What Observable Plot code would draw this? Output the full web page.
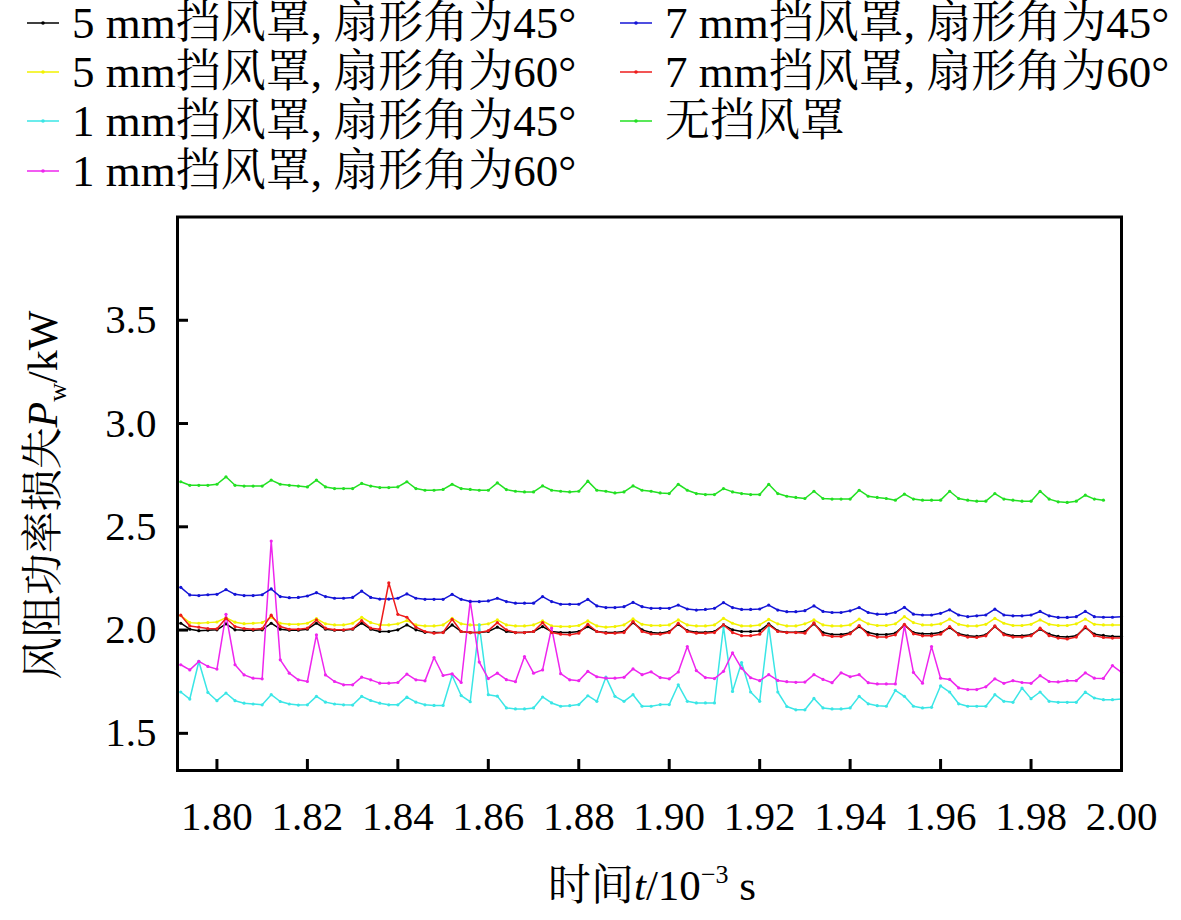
<!DOCTYPE html>
<html><head><meta charset="utf-8">
<script src="https://cdn.jsdelivr.net/npm/d3@7"></script>
<script src="https://cdn.jsdelivr.net/npm/@observablehq/plot@0.6"></script>
<style>
body{margin:0;background:#fff;overflow:hidden;width:1181px;height:920px;position:relative;font-family:"Liberation Serif","Times New Roman","Noto Serif CJK SC","Noto Sans CJK SC",serif;}
#legend{position:relative;height:200px;width:1181px;}
.item{position:absolute;height:50px;line-height:50px;font-size:45px;white-space:nowrap;color:#000}
.item svg{position:absolute;left:0;top:0}
.item span{position:absolute;left:45px;top:0}
#chart svg{display:block}
#chart svg text{font-family:"Liberation Serif","Times New Roman","Noto Serif CJK SC","Noto Sans CJK SC",serif}
</style></head><body>
<div id="legend"></div>
<div id="chart"></div>
<script>
// time (10^-3 s)
const times = [1.792,1.794,1.796,1.798,1.800,1.802,1.804,1.806,1.808,1.810,1.812,1.814,1.816,1.818,1.820,1.822,1.824,1.826,1.828,1.830,1.832,1.834,1.836,1.838,1.840,1.842,1.844,1.846,1.848,1.850,1.852,1.854,1.856,1.858,1.860,1.862,1.864,1.866,1.868,1.870,1.872,1.874,1.876,1.878,1.880,1.882,1.884,1.886,1.888,1.890,1.892,1.894,1.896,1.898,1.900,1.902,1.904,1.906,1.908,1.910,1.912,1.914,1.916,1.918,1.920,1.922,1.924,1.926,1.928,1.930,1.932,1.934,1.936,1.938,1.940,1.942,1.944,1.946,1.948,1.950,1.952,1.954,1.956,1.958,1.960,1.962,1.964,1.966,1.968,1.970,1.972,1.974,1.976,1.978,1.980,1.982,1.984,1.986,1.988,1.990,1.992,1.994,1.996,1.998,2.000];

const names = ["5 mm挡风罩, 扇形角为45°","5 mm挡风罩, 扇形角为60°","1 mm挡风罩, 扇形角为45°","1 mm挡风罩, 扇形角为60°","7 mm挡风罩, 扇形角为45°","7 mm挡风罩, 扇形角为60°","无挡风罩"];
const colors = ["#000000","#f2f200","#3ae6e6","#ee26ee","#1414d6","#ee1c1c","#22e022"];

const black5mm45 = [2.033,2.004,1.997,1.999,2.001,2.030,2.001,1.999,1.999,2.001,2.033,2.004,1.999,1.999,2.004,2.033,2.004,1.999,1.999,2.004,2.033,
2.004,1.993,1.993,2.001,2.025,2.001,1.989,1.988,1.989,2.025,1.993,1.988,1.988,1.993,2.014,1.993,1.988,1.988,1.993,2.017,
1.993,1.988,1.988,1.993,2.017,1.993,1.988,1.988,1.993,2.036,2.001,1.988,1.985,1.993,2.028,1.997,1.989,1.989,1.993,2.025,
2.001,1.993,1.993,1.996,2.030,1.996,1.989,1.989,1.993,2.030,1.988,1.978,1.978,1.986,2.017,1.988,1.978,1.978,1.985,2.024,
1.988,1.982,1.982,1.988,2.012,1.982,1.972,1.969,1.977,2.017,1.982,1.972,1.972,1.977,2.004,1.980,1.969,1.966,1.972,2.012,1.980,1.974,1.969,1.969];

const yellow5mm60 = [2.070,2.036,2.033,2.036,2.039,2.060,2.038,2.031,2.033,2.036,2.062,2.033,2.028,2.028,2.033,2.055,2.030,2.025,2.025,2.033,2.062,
2.036,2.025,2.025,2.030,2.046,2.025,2.020,2.020,2.025,2.057,2.030,2.025,2.025,2.030,2.049,2.025,2.020,2.020,2.025,2.044,
2.020,2.017,2.017,2.022,2.044,2.020,2.014,2.017,2.025,2.054,2.028,2.022,2.022,2.025,2.049,2.025,2.020,2.020,2.025,2.057,
2.033,2.020,2.020,2.025,2.052,2.030,2.020,2.020,2.030,2.049,2.025,2.020,2.020,2.025,2.053,2.030,2.022,2.022,2.030,2.065,
2.036,2.025,2.025,2.030,2.053,2.028,2.020,2.020,2.028,2.057,2.033,2.022,2.022,2.028,2.049,2.028,2.022,2.022,2.030,2.053,2.028,2.025,2.025,2.025];

const cyan1mm45 = [1.700,1.666,1.848,1.698,1.658,1.695,1.658,1.646,1.642,1.638,1.687,1.654,1.642,1.637,1.638,1.679,1.651,1.642,1.638,1.637,1.679,
1.659,1.646,1.638,1.638,1.675,1.651,1.638,1.635,1.635,1.780,1.683,1.653,2.025,1.687,1.680,1.623,1.618,1.618,1.623,1.676,
1.647,1.631,1.634,1.639,1.682,1.655,1.772,1.679,1.655,1.687,1.631,1.631,1.639,1.639,1.735,1.655,1.647,1.647,1.647,2.017,
1.703,1.843,1.700,1.655,2.020,1.700,1.630,1.614,1.614,1.669,1.623,1.618,1.618,1.623,1.679,1.643,1.634,1.631,1.708,1.679,
1.631,1.623,1.626,1.730,1.700,1.643,1.631,1.631,1.631,1.687,1.655,1.650,1.719,1.668,1.700,1.655,1.650,1.650,1.650,1.700,1.671,1.663,1.663,1.666];

const magenta1mm60 = [1.832,1.807,1.848,1.824,1.811,2.076,1.832,1.783,1.767,1.764,2.431,1.856,1.791,1.759,1.751,1.977,1.783,1.751,1.735,1.735,1.772,
1.759,1.743,1.743,1.746,1.787,1.759,1.754,1.867,1.780,1.788,1.746,2.140,1.845,1.765,1.791,1.760,1.750,1.872,1.791,1.807,
2.010,1.789,1.759,1.755,1.800,1.774,1.767,1.767,1.771,1.812,1.784,1.798,1.770,1.764,1.797,1.920,1.804,1.770,1.765,1.800,
1.890,1.815,1.769,1.755,1.784,1.756,1.750,1.747,1.748,1.784,1.761,1.745,1.793,1.774,1.784,1.745,1.739,1.739,1.739,2.022,
1.795,1.743,1.920,1.767,1.761,1.720,1.712,1.712,1.725,1.764,1.742,1.755,1.746,1.742,1.779,1.751,1.749,1.755,1.755,1.793,1.767,1.766,1.828,1.795];

const blue7mm45 = [2.207,2.170,2.167,2.171,2.173,2.196,2.173,2.167,2.167,2.171,2.199,2.162,2.157,2.158,2.165,2.181,2.162,2.154,2.154,2.158,2.189,
2.158,2.150,2.150,2.154,2.175,2.154,2.149,2.149,2.149,2.173,2.149,2.138,2.138,2.141,2.154,2.138,2.130,2.130,2.130,2.162,
2.138,2.125,2.125,2.125,2.149,2.117,2.109,2.109,2.113,2.134,2.113,2.105,2.105,2.105,2.121,2.102,2.097,2.100,2.105,2.133,
2.109,2.100,2.100,2.102,2.121,2.097,2.089,2.089,2.094,2.117,2.090,2.085,2.085,2.093,2.109,2.085,2.077,2.077,2.086,2.110,
2.077,2.073,2.073,2.081,2.098,2.073,2.065,2.069,2.073,2.101,2.073,2.069,2.069,2.073,2.090,2.069,2.061,2.061,2.065,2.090,2.065,2.062,2.062,2.065];

const red7mm60 = [2.072,2.020,2.014,2.007,2.006,2.057,2.017,2.007,2.004,2.007,2.072,2.017,2.004,2.004,2.009,2.049,2.009,2.001,2.001,2.006,2.046,
2.009,2.004,2.229,2.076,2.062,2.014,1.993,1.985,1.988,2.052,1.993,1.988,1.988,1.997,2.036,2.001,1.988,1.988,1.993,2.036,
1.988,1.980,1.977,1.985,2.028,1.993,1.985,1.985,1.988,2.041,1.993,1.981,1.980,1.988,2.033,1.993,1.985,1.985,1.988,2.025,
1.988,1.973,1.973,1.980,2.025,1.993,1.988,1.988,1.985,2.035,1.977,1.969,1.969,1.982,2.022,1.977,1.966,1.966,1.977,2.028,
1.982,1.972,1.972,1.980,2.017,1.977,1.966,1.964,1.972,2.020,1.977,1.966,1.966,1.972,2.009,1.973,1.961,1.957,1.966,2.017,1.973,1.964,1.961,1.961];

const greenNone = [2.718,2.701,2.701,2.701,2.706,2.742,2.701,2.697,2.697,2.697,2.726,2.706,2.701,2.697,2.693,2.726,2.693,2.685,2.685,2.685,2.710,
2.697,2.690,2.690,2.693,2.718,2.685,2.677,2.677,2.681,2.706,2.685,2.681,2.677,2.677,2.713,2.680,2.672,2.669,2.669,2.698,
2.677,2.672,2.669,2.672,2.721,2.677,2.672,2.664,2.669,2.698,2.677,2.672,2.664,2.661,2.706,2.677,2.661,2.656,2.656,2.685,
2.669,2.661,2.656,2.656,2.706,2.661,2.648,2.642,2.637,2.672,2.637,2.634,2.634,2.634,2.677,2.648,2.642,2.637,2.629,2.658,
2.634,2.629,2.629,2.629,2.672,2.637,2.629,2.624,2.624,2.661,2.634,2.629,2.624,2.624,2.672,2.634,2.621,2.618,2.624,2.653,2.634,2.629];

const xTicks = [1.80,1.82,1.84,1.86,1.88,1.90,1.92,1.94,1.96,1.98,2.00];
const yTicks = [1.5,2.0,2.5,3.0,3.5];

const seriesValues = [black5mm45, yellow5mm60, cyan1mm45, magenta1mm60, blue7mm45, red7mm60, greenNone];

// legend
const legend = document.getElementById("legend");
const legendPos = [[27,-2],[27,47],[27,96],[27,146],[620,-2],[620,47],[620,96]];
names.forEach((n,i)=>{
  const d = document.createElement("div");
  d.className = "item";
  d.style.left = legendPos[i][0]+"px";
  d.style.top = legendPos[i][1]+"px";
  d.innerHTML = `<svg width="34" height="50"><line x1="0" x2="32" y1="25" y2="25" stroke="${colors[i]}" stroke-width="1.5"/><circle cx="16" cy="25" r="1.8" fill="${colors[i]}"/></svg><span>${n}</span>`;
  legend.appendChild(d);
});

const W = 1181, H = 720, mL = 177, mR = 60, mT = 16.5, mB = 150;
const plotW = W - mL - mR, plotH = H - mT - mB;
const serif = "Liberation Serif";

const marks = [];
seriesValues.forEach((vals,i)=>{
  const rows = vals.map((v,j)=>({t: times[j], v}));
  marks.push(Plot.line(rows, {x:"t", y:"v", stroke: colors[i], strokeWidth: 1.5}));
  marks.push(Plot.dot(rows, {x:"t", y:"v", r: 1.6, fill: colors[i], stroke: "none"}));
});

const chart = Plot.plot({
  width: W, height: H,
  marginLeft: mL, marginRight: mR, marginTop: mT, marginBottom: mB,
  x: {domain: [1.79128, 2.0]},
  y: {domain: [1.32, 4.0]},
  style: {fontSize: "41px", color: "#000", background: "transparent", overflow: "visible"},
  marks: [
    ...marks,
    Plot.ruleX(xTicks, {x: d=>d, insetTop: plotH - 11, stroke: "#000", strokeWidth: 3}),
    Plot.ruleY(yTicks, {y: d=>d, insetRight: plotW - 11, stroke: "#000", strokeWidth: 3}),
    Plot.frame({stroke: "#000", strokeWidth: 3}),
    Plot.axisX(xTicks, {tickSize: 0, tickPadding: 30, tickFormat: d3.format(".2f"), label: null, fontSize: 41, fontFamily: serif}),
    Plot.axisY(yTicks, {tickSize: 0, tickPadding: 21, tickFormat: d3.format(".1f"), label: null, fontSize: 41, fontFamily: serif})
  ]
});
document.getElementById("chart").appendChild(chart);

// axis titles with italic / sub / superscript
const svg = d3.select(chart);
const ff = '"Liberation Serif","Times New Roman","Noto Serif CJK SC","Noto Sans CJK SC",serif';
const xt = svg.append("text").attr("x", 652).attr("y", 700).attr("text-anchor","middle")
  .attr("font-family", ff).attr("font-size", 43).attr("fill","#000");
xt.append("tspan").text("时间");
xt.append("tspan").attr("font-style","italic").text("t");
xt.append("tspan").text("/10");
xt.append("tspan").attr("font-size", 26).attr("dy", -17).text("−3");
xt.append("tspan").attr("dy", 17).text(" s");

const yt = svg.append("text").attr("transform","translate(57,295) rotate(-90)").attr("text-anchor","middle")
  .attr("font-family", ff).attr("font-size", 42).attr("fill","#000");
yt.append("tspan").text("风阻功率损失");
yt.append("tspan").attr("font-style","italic").text("P");
yt.append("tspan").attr("font-size", 26).attr("dy", 9).text("w");
yt.append("tspan").attr("dy", -9).text("/kW");
</script>
</body></html>
